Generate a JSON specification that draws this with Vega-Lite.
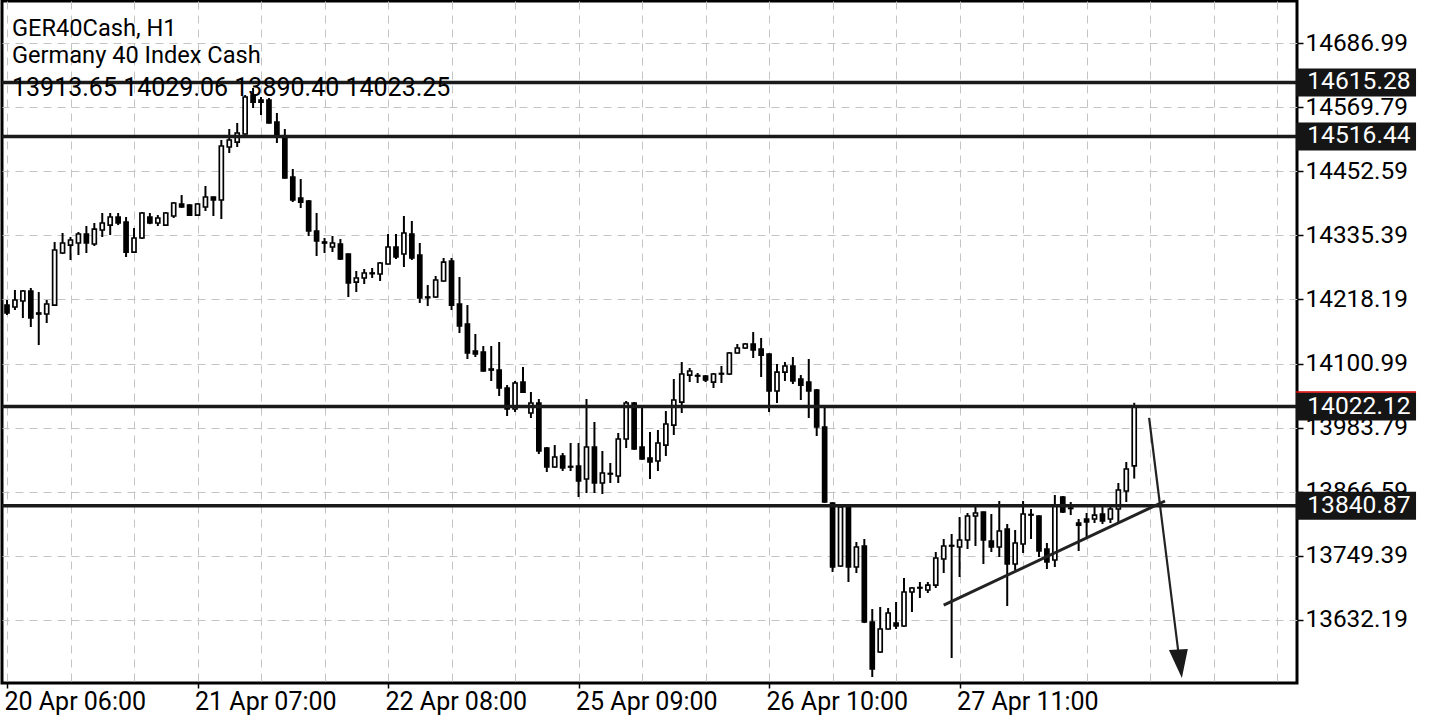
{
  "$schema": "https://vega.github.io/schema/vega-lite/v6.json",
  "width": 1295,
  "height": 682,
  "autosize": {"type": "none"},
  "padding": {"left": 2, "top": 1, "right": 143, "bottom": 37},
  "background": "white",
  "config": {"view": {"stroke": "black", "strokeWidth": 3}, "font": "Roboto"},
  "title": {
    "text": ["GER40Cash, H1", "Germany 40 Index Cash"],
    "subtitle": "13913.65 14029.06 13890.40 14023.25",
    "anchor": "start", "frame": "group", "orient": "top", "offset": -100, "dx": 10,
    "font": "Roboto", "fontSize": 23.6, "fontWeight": "normal", "color": "black", "lineHeight": 27.3,
    "subtitleFont": "Roboto", "subtitleFontSize": 25, "subtitleColor": "black", "subtitleFontWeight": "normal", "subtitlePadding": 8
  },
  "datasets": {
    "candles": [
      {"i":0,"o":14208.0,"h":14217.2,"l":14189.7,"c":14193.4},
      {"i":1,"o":14204.4,"h":14235.5,"l":14198.9,"c":14217.2},
      {"i":2,"o":14215.4,"h":14235.5,"l":14184.3,"c":14233.7},
      {"i":3,"o":14233.7,"h":14239.2,"l":14167.8,"c":14184.3},
      {"i":4,"o":14193.4,"h":14231.8,"l":14134.8,"c":14191.6},
      {"i":5,"o":14191.6,"h":14217.2,"l":14175.1,"c":14209.9},
      {"i":6,"o":14208.0,"h":14323.3,"l":14206.2,"c":14308.7},
      {"i":7,"o":14303.2,"h":14339.8,"l":14301.4,"c":14321.5},
      {"i":8,"o":14317.8,"h":14332.5,"l":14290.4,"c":14327.0},
      {"i":9,"o":14321.5,"h":14341.6,"l":14299.5,"c":14338.0},
      {"i":10,"o":14338.0,"h":14352.6,"l":14303.2,"c":14321.5},
      {"i":11,"o":14319.7,"h":14358.1,"l":14316.0,"c":14347.1},
      {"i":12,"o":14345.3,"h":14376.4,"l":14332.5,"c":14358.1},
      {"i":13,"o":14354.4,"h":14376.4,"l":14336.1,"c":14369.1},
      {"i":14,"o":14369.1,"h":14376.4,"l":14354.4,"c":14358.1},
      {"i":15,"o":14359.9,"h":14369.1,"l":14295.9,"c":14305.0},
      {"i":16,"o":14305.0,"h":14348.9,"l":14303.2,"c":14330.7},
      {"i":17,"o":14330.7,"h":14378.2,"l":14329.0,"c":14376.4},
      {"i":18,"o":14369.1,"h":14376.4,"l":14356.0,"c":14358.1},
      {"i":19,"o":14358.1,"h":14372.7,"l":14352.6,"c":14367.3},
      {"i":20,"o":14354.4,"h":14378.2,"l":14353.0,"c":14376.4},
      {"i":21,"o":14370.9,"h":14396.5,"l":14367.3,"c":14394.7},
      {"i":22,"o":14392.9,"h":14409.3,"l":14386.0,"c":14387.4},
      {"i":23,"o":14391.0,"h":14392.5,"l":14371.0,"c":14372.7},
      {"i":24,"o":14372.7,"h":14394.5,"l":14371.0,"c":14392.9},
      {"i":25,"o":14387.4,"h":14425.8,"l":14380.1,"c":14405.7},
      {"i":26,"o":14405.7,"h":14406.5,"l":14370.9,"c":14400.2},
      {"i":27,"o":14400.2,"h":14510.0,"l":14365.4,"c":14499.0},
      {"i":28,"o":14497.2,"h":14530.1,"l":14486.2,"c":14510.0},
      {"i":29,"o":14506.3,"h":14541.1,"l":14497.2,"c":14522.8},
      {"i":30,"o":14521.0,"h":14592.3,"l":14520.0,"c":14588.7},
      {"i":31,"o":14592.3,"h":14605.2,"l":14568.6,"c":14579.5},
      {"i":32,"o":14583.2,"h":14588.7,"l":14555.7,"c":14579.5},
      {"i":33,"o":14583.2,"h":14586.9,"l":14540.0,"c":14541.1},
      {"i":34,"o":14542.9,"h":14559.4,"l":14504.5,"c":14515.5},
      {"i":35,"o":14515.5,"h":14530.1,"l":14439.0,"c":14440.5},
      {"i":36,"o":14442.3,"h":14456.9,"l":14396.5,"c":14400.2},
      {"i":37,"o":14403.9,"h":14438.6,"l":14385.6,"c":14396.5},
      {"i":38,"o":14398.4,"h":14400.2,"l":14334.3,"c":14343.5},
      {"i":39,"o":14343.5,"h":14376.4,"l":14297.7,"c":14325.2},
      {"i":40,"o":14323.3,"h":14330.7,"l":14303.2,"c":14321.5},
      {"i":41,"o":14314.2,"h":14334.3,"l":14305.0,"c":14321.5},
      {"i":42,"o":14319.7,"h":14328.8,"l":14290.4,"c":14292.2},
      {"i":43,"o":14301.4,"h":14302.5,"l":14222.7,"c":14248.3},
      {"i":44,"o":14250.1,"h":14270.3,"l":14231.8,"c":14257.5},
      {"i":45,"o":14257.5,"h":14273.9,"l":14246.5,"c":14266.6},
      {"i":46,"o":14265.5,"h":14275.8,"l":14257.5,"c":14266.6},
      {"i":47,"o":14264.8,"h":14286.7,"l":14252.0,"c":14284.9},
      {"i":48,"o":14283.1,"h":14338.0,"l":14282.0,"c":14314.2},
      {"i":49,"o":14314.2,"h":14338.0,"l":14292.2,"c":14295.9},
      {"i":50,"o":14301.4,"h":14370.9,"l":14277.6,"c":14339.8},
      {"i":51,"o":14338.0,"h":14361.8,"l":14290.4,"c":14294.1},
      {"i":52,"o":14299.5,"h":14321.5,"l":14211.7,"c":14220.9},
      {"i":53,"o":14222.7,"h":14244.6,"l":14206.2,"c":14221.5},
      {"i":54,"o":14222.7,"h":14261.1,"l":14221.0,"c":14253.8},
      {"i":55,"o":14252.0,"h":14294.1,"l":14250.5,"c":14286.7},
      {"i":56,"o":14288.6,"h":14294.1,"l":14198.9,"c":14208.0},
      {"i":57,"o":14209.9,"h":14259.3,"l":14156.8,"c":14169.6},
      {"i":58,"o":14173.3,"h":14208.0,"l":14109.2,"c":14120.2},
      {"i":59,"o":14123.9,"h":14155.0,"l":14112.9,"c":14118.4},
      {"i":60,"o":14122.0,"h":14133.0,"l":14086.0,"c":14087.3},
      {"i":61,"o":14090.9,"h":14133.0,"l":14069.0,"c":14089.1},
      {"i":62,"o":14089.1,"h":14140.3,"l":14041.5,"c":14056.2},
      {"i":63,"o":14056.2,"h":14061.6,"l":14004.9,"c":14017.7},
      {"i":64,"o":14017.7,"h":14069.0,"l":14012.2,"c":14065.3},
      {"i":65,"o":14067.1,"h":14094.6,"l":14047.0,"c":14048.8},
      {"i":66,"o":14010.4,"h":14048.8,"l":14001.3,"c":14028.7},
      {"i":67,"o":14028.7,"h":14036.0,"l":13935.4,"c":13940.9},
      {"i":68,"o":13946.4,"h":13948.2,"l":13902.4,"c":13911.6},
      {"i":69,"o":13911.6,"h":13951.8,"l":13910.0,"c":13929.9},
      {"i":70,"o":13931.7,"h":13937.2,"l":13904.3,"c":13909.8},
      {"i":71,"o":13912.5,"h":13955.5,"l":13904.3,"c":13911.6},
      {"i":72,"o":13913.4,"h":13955.5,"l":13856.7,"c":13886.0},
      {"i":73,"o":13889.6,"h":14036.0,"l":13864.0,"c":13948.2},
      {"i":74,"o":13948.2,"h":13993.9,"l":13864.0,"c":13882.3},
      {"i":75,"o":13882.3,"h":13940.9,"l":13862.2,"c":13900.6},
      {"i":76,"o":13898.8,"h":13918.9,"l":13882.3,"c":13899.7},
      {"i":77,"o":13895.1,"h":13973.8,"l":13882.3,"c":13962.8},
      {"i":78,"o":13962.8,"h":14032.4,"l":13946.4,"c":14028.7},
      {"i":79,"o":14028.7,"h":14030.5,"l":13943.0,"c":13944.5},
      {"i":80,"o":13948.2,"h":14021.4,"l":13925.0,"c":13926.2},
      {"i":81,"o":13928.1,"h":13975.6,"l":13889.6,"c":13920.7},
      {"i":82,"o":13922.6,"h":13979.3,"l":13904.3,"c":13955.5},
      {"i":83,"o":13951.8,"h":14014.1,"l":13931.7,"c":13990.3},
      {"i":84,"o":13988.4,"h":14072.6,"l":13970.1,"c":14034.2},
      {"i":85,"o":14030.5,"h":14103.7,"l":14010.4,"c":14081.8},
      {"i":86,"o":14079.9,"h":14092.8,"l":14067.1,"c":14087.3},
      {"i":87,"o":14078.1,"h":14083.6,"l":14065.3,"c":14079.0},
      {"i":88,"o":14078.1,"h":14079.9,"l":14067.1,"c":14070.8},
      {"i":89,"o":14067.1,"h":14083.6,"l":14056.2,"c":14081.8},
      {"i":90,"o":14081.8,"h":14096.4,"l":14065.3,"c":14082.7},
      {"i":91,"o":14081.8,"h":14122.0,"l":14079.9,"c":14120.2},
      {"i":92,"o":14120.2,"h":14136.7,"l":14119.0,"c":14129.4},
      {"i":93,"o":14129.4,"h":14138.5,"l":14127.5,"c":14136.7},
      {"i":94,"o":14136.7,"h":14158.6,"l":14111.1,"c":14125.7},
      {"i":95,"o":14127.5,"h":14147.7,"l":14076.3,"c":14116.5},
      {"i":96,"o":14118.4,"h":14119.5,"l":14012.2,"c":14050.7},
      {"i":97,"o":14050.7,"h":14100.1,"l":14028.7,"c":14085.4},
      {"i":98,"o":14085.4,"h":14103.7,"l":14069.0,"c":14096.4},
      {"i":99,"o":14096.4,"h":14112.9,"l":14063.5,"c":14069.0},
      {"i":100,"o":14072.6,"h":14079.9,"l":14034.2,"c":14061.6},
      {"i":101,"o":14067.1,"h":14109.2,"l":14001.3,"c":14050.7},
      {"i":102,"o":14052.5,"h":14054.3,"l":13968.3,"c":13984.8},
      {"i":103,"o":13984.8,"h":14019.6,"l":13846.0,"c":13847.5},
      {"i":104,"o":13845.7,"h":13847.0,"l":13719.4,"c":13728.6},
      {"i":105,"o":13730.4,"h":13840.0,"l":13729.0,"c":13838.4},
      {"i":106,"o":13838.4,"h":13840.0,"l":13701.1,"c":13728.6},
      {"i":107,"o":13728.6,"h":13774.3,"l":13717.6,"c":13765.2},
      {"i":108,"o":13767.0,"h":13779.8,"l":13626.0,"c":13627.9},
      {"i":109,"o":13627.9,"h":13651.7,"l":13527.3,"c":13541.9},
      {"i":110,"o":13573.0,"h":13655.4,"l":13571.2,"c":13615.1},
      {"i":111,"o":13615.1,"h":13653.6,"l":13614.0,"c":13644.4},
      {"i":112,"o":13626.1,"h":13664.5,"l":13615.1,"c":13620.6},
      {"i":113,"o":13620.6,"h":13708.5,"l":13619.0,"c":13682.8},
      {"i":114,"o":13682.8,"h":13692.0,"l":13646.2,"c":13690.2},
      {"i":115,"o":13690.2,"h":13701.1,"l":13671.9,"c":13691.0},
      {"i":116,"o":13686.5,"h":13701.1,"l":13681.0,"c":13695.6},
      {"i":117,"o":13695.6,"h":13756.0,"l":13690.2,"c":13745.1},
      {"i":118,"o":13743.2,"h":13779.8,"l":13717.6,"c":13767.0},
      {"i":119,"o":13767.0,"h":13789.0,"l":13562.1,"c":13767.9},
      {"i":120,"o":13765.2,"h":13820.1,"l":13710.3,"c":13778.0},
      {"i":121,"o":13778.0,"h":13827.4,"l":13761.5,"c":13821.9},
      {"i":122,"o":13821.9,"h":13838.4,"l":13767.0,"c":13827.4},
      {"i":123,"o":13829.2,"h":13830.0,"l":13734.1,"c":13778.0},
      {"i":124,"o":13776.2,"h":13825.6,"l":13756.0,"c":13765.2},
      {"i":125,"o":13765.2,"h":13849.4,"l":13746.9,"c":13794.5},
      {"i":126,"o":13798.1,"h":13807.3,"l":13657.2,"c":13734.1},
      {"i":127,"o":13734.1,"h":13796.3,"l":13723.1,"c":13772.5},
      {"i":128,"o":13770.7,"h":13849.4,"l":13754.2,"c":13825.6},
      {"i":129,"o":13823.7,"h":13834.7,"l":13779.8,"c":13824.6},
      {"i":130,"o":13821.9,"h":13823.0,"l":13746.9,"c":13757.9},
      {"i":131,"o":13761.5,"h":13772.5,"l":13724.9,"c":13737.7},
      {"i":132,"o":13741.4,"h":13860.3,"l":13728.6,"c":13840.2},
      {"i":133,"o":13856.7,"h":13858.5,"l":13827.4,"c":13829.2},
      {"i":134,"o":13836.6,"h":13847.5,"l":13823.7,"c":13835.7},
      {"i":135,"o":13809.1,"h":13816.4,"l":13757.9,"c":13805.4},
      {"i":136,"o":13816.4,"h":13827.4,"l":13781.7,"c":13810.9},
      {"i":137,"o":13816.4,"h":13838.4,"l":13809.1,"c":13823.7},
      {"i":138,"o":13825.6,"h":13838.4,"l":13807.3,"c":13812.8},
      {"i":139,"o":13816.4,"h":13838.4,"l":13809.1,"c":13834.7},
      {"i":140,"o":13834.7,"h":13882.3,"l":13810.9,"c":13869.5},
      {"i":141,"o":13867.7,"h":13920.7,"l":13847.5,"c":13907.9},
      {"i":142,"o":13913.65,"h":14029.06,"l":13890.40,"c":14023.25}
    ],
    "levels": [{"p": 14615.28}, {"p": 14516.44}, {"p": 14022.12}, {"p": 13840.87}],
    "trend": [{"i": 118.0, "p": 13659.0}, {"i": 145.875, "p": 13849.4}],
    "arrow": [{"i": 143.875, "p": 14001.3}, {"i": 147.8, "p": 13545.0}],
    "head": [{"i": 147.78, "p": 13551.5}]
  },
  "layer": [
    {
      "data": {"name": "candles"},
      "mark": {"type": "rule", "color": "black", "strokeWidth": 2, "clip": true},
      "encoding": {
        "x": {
          "field": "i", "type": "quantitative",
          "scale": {"domain": [0, 161.875], "nice": false, "zero": false},
          "axis": {
            "title": null, "orient": "bottom",
            "values": [0, 8, 16, 24, 32, 40, 48, 56, 64, 72, 80, 88, 96, 104, 112, 120, 128, 136, 144, 152, 160],
            "labelExpr": "datum.value == 0 ? '20 Apr 06:00' : datum.value == 24 ? '21 Apr 07:00' : datum.value == 48 ? '22 Apr 08:00' : datum.value == 72 ? '25 Apr 09:00' : datum.value == 96 ? '26 Apr 10:00' : datum.value == 120 ? '27 Apr 11:00' : ''",
            "labelAlign": "left", "labelFont": "Roboto", "labelFontSize": 25, "labelColor": "black",
            "labelPadding": 1, "labelOffset": -3, "labelOverlap": false, "labelFlush": false,
            "tickSize": 5, "tickWidth": 1.5,
            "tickColor": {"condition": {"test": "datum.value % 24 === 0 && datum.value <= 120", "value": "black"}, "value": "transparent"},
            "domain": false, "grid": true, "gridColor": "#c4c4c4", "gridDash": [8, 6], "gridWidth": 1
          }
        },
        "y": {
          "field": "l", "type": "quantitative",
          "scale": {"domain": [13516.3, 14764.4], "nice": false, "zero": false},
          "axis": {
            "title": null, "orient": "right",
            "values": [13632.19, 13749.39, 13866.59, 13983.79, 14100.99, 14218.19, 14335.39, 14452.59, 14569.79, 14686.99],
            "format": ".2f", "labelFont": "Roboto", "labelFontSize": 24.4, "labelColor": "black",
            "labelPadding": 2, "tickSize": 6, "tickWidth": 1.5, "tickColor": "black",
            "domain": false, "grid": true, "gridColor": "#c4c4c4", "gridDash": [8, 6], "gridWidth": 1
          }
        },
        "y2": {"field": "h"}
      }
    },
    {
      "data": {"name": "candles"},
      "mark": {"type": "bar", "width": 4, "stroke": "black", "strokeWidth": 1.7, "clip": true},
      "encoding": {
        "x": {"field": "i", "type": "quantitative", "title": null},
        "y": {"field": "o", "type": "quantitative", "title": null},
        "y2": {"field": "c"},
        "fill": {"condition": {"test": "datum.c >= datum.o", "value": "white"}, "value": "black"}
      }
    },
    {
      "data": {"name": "levels"},
      "mark": {"type": "rule", "color": "#1a1a1a", "strokeWidth": 3.5, "clip": true},
      "encoding": {"y": {"field": "p", "type": "quantitative", "title": null}}
    },
    {
      "data": {"name": "trend"},
      "mark": {"type": "line", "color": "#222222", "strokeWidth": 3, "clip": true},
      "encoding": {
        "x": {"field": "i", "type": "quantitative", "title": null},
        "y": {"field": "p", "type": "quantitative", "title": null}
      }
    },
    {
      "data": {"name": "arrow"},
      "mark": {"type": "line", "color": "#222222", "strokeWidth": 2.2, "clip": true},
      "encoding": {
        "x": {"field": "i", "type": "quantitative", "title": null},
        "y": {"field": "p", "type": "quantitative", "title": null}
      }
    },
    {
      "data": {"name": "head"},
      "mark": {"type": "point", "shape": "M-0.8,-0.98L0.55,-1.05L0.125,1.02Z", "size": 784, "filled": true, "color": "#1a1a1a", "opacity": 1, "clip": true},
      "encoding": {
        "x": {"field": "i", "type": "quantitative", "title": null},
        "y": {"field": "p", "type": "quantitative", "title": null}
      }
    },
    {
      "data": {"name": "levels"},
      "mark": {"type": "rule", "color": "#151515", "strokeWidth": 28, "strokeCap": "butt", "clip": false},
      "encoding": {
        "x": {"datum": 162.375},
        "x2": {"datum": 177.5},
        "y": {"field": "p", "type": "quantitative", "title": null}
      }
    },
    {
      "data": {"values": [{"p": 14022.12}]},
      "mark": {"type": "rule", "color": "#e00000", "strokeWidth": 1.5, "yOffset": -14.5, "clip": false},
      "encoding": {
        "x": {"datum": 162.375},
        "x2": {"datum": 177.5},
        "y": {"field": "p", "type": "quantitative", "title": null}
      }
    },
    {
      "data": {"name": "levels"},
      "mark": {"type": "text", "color": "white", "font": "Roboto", "fontSize": 24.6, "align": "left", "baseline": "middle", "clip": false},
      "encoding": {
        "x": {"datum": 163.8},
        "y": {"field": "p", "type": "quantitative", "title": null},
        "text": {"field": "p", "type": "quantitative", "format": ".2f"}
      }
    }
  ]
}
